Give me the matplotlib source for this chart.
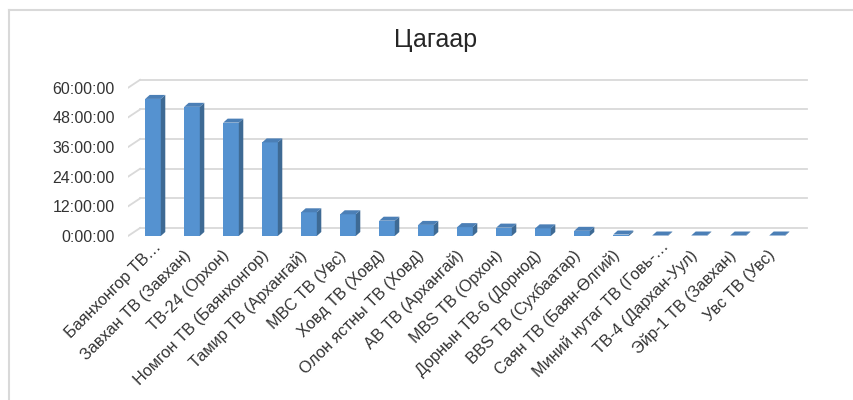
import matplotlib.pyplot as plt
from matplotlib.lines import Line2D
from matplotlib.patches import Polygon
from matplotlib.transforms import ScaledTranslation

plt.rcParams['font.family'] = ['Liberation Sans', 'DejaVu Sans']

# data: air time per channel, in hours
channels = [
    'Баянхонгор ТВ…', 'Завхан ТВ (Завхан)', 'ТВ-24 (Орхон)',
    'Номгон ТВ (Баянхонгор)', 'Тамир ТВ (Архангай)', 'MBC ТВ (Увс)',
    'Ховд ТВ (Ховд)', 'Олон ястны ТВ (Ховд)', 'АВ ТВ (Архангай)',
    'MBS ТВ (Орхон)', 'Дорнын ТВ-6 (Дорнод)', 'BBS ТВ (Сухбаатар)',
    'Саян ТВ (Баян-Өлгий)', 'Миний нутаг ТВ (Говь-…', 'ТВ-4 (Дархан-Уул)',
    'Эйр-1 ТВ (Завхан)', 'Увс ТВ (Увс)',
]
hours = [55.5, 52.3, 45.9, 37.9, 9.6, 8.8, 6.2, 4.5, 3.6, 3.4, 3.1, 2.1,
         0.6, 0.2, 0.2, 0.2, 0.2]
y_ticks = [0, 12, 24, 36, 48, 60]
y_labels = [f'{t}:00:00' for t in y_ticks]

front_col = '#5592d0'
side_col = '#3e6a94'
top_col = '#4b7fb6'
grid_col = '#d9d9d9'
text_col = '#333333'

fig = plt.figure(figsize=(8.54, 4.0), dpi=100)

# chart frame (cropped on the right and bottom)
fig.add_artist(Line2D([8.5 / 854, 8.5 / 854], [0, 1 - 10 / 400], transform=fig.transFigure,
                      color=grid_col, lw=1.5))
fig.add_artist(Line2D([8.5 / 854, 1], [1 - 10 / 400, 1 - 10 / 400], transform=fig.transFigure,
                      color=grid_col, lw=1.5))

fig.text(436 / 854, 1 - 40 / 400, 'Цагаар', ha='center', va='center', fontsize=18, color='#262626')

ax = fig.add_axes([128 / 854, 155 / 400, 684 / 854, 173 / 400])
x_lo, x_hi = -0.641, 16.897
ax.set_xlim(x_lo, x_hi)
ax.set_ylim(-3.64, 66.4)
for s in ax.spines.values():
    s.set_visible(False)

# back wall gridlines with the short diagonal on the side wall
wall_dx, wall_dy = 0.31, 3.24
x_end = 16.77
for t in y_ticks:
    ax.plot([x_lo, x_lo + wall_dx], [t, t + wall_dy], color=grid_col, lw=1.3, zorder=1)
    ax.plot([x_lo + wall_dx, x_end], [t + wall_dy, t + wall_dy], color=grid_col, lw=1.3, zorder=1)

# bars with a fake 3d side and top
w = 0.4
bdx, bdy = 0.115, 1.62
xs = list(range(len(hours)))
ax.bar(xs, hours, width=w, color=front_col, zorder=3)
for i, h in zip(xs, hours):
    r = i + w / 2
    l = i - w / 2
    ax.add_patch(Polygon([(r, 0), (r + bdx, bdy), (r + bdx, h + bdy), (r, h)],
                         closed=True, facecolor=side_col, edgecolor='none', zorder=3))
    ax.add_patch(Polygon([(l, h), (r, h), (r + bdx, h + bdy), (l + bdx, h + bdy)],
                         closed=True, facecolor=top_col, edgecolor='none', zorder=3))

ax.set_yticks(y_ticks, labels=y_labels)
ax.set_xticks(xs, labels=channels, rotation=45, ha='right', va='center', rotation_mode='anchor')
ax.tick_params(axis='y', length=0, pad=9.4, labelsize=11.5, labelcolor=text_col)
ax.tick_params(axis='x', length=0, pad=8, labelsize=11.7, labelcolor=text_col)

# nudge labels; truncated ones sit a bit higher, like in excel
for lab in ax.get_xticklabels():
    dx, dy = -0.04, 0.03
    if lab.get_text().endswith('…'):
        dx, dy = 0.06, 0.12
    lab.set_transform(lab.get_transform() + ScaledTranslation(dx, dy, fig.dpi_scale_trans))

fig.savefig('out.png', dpi=100)
